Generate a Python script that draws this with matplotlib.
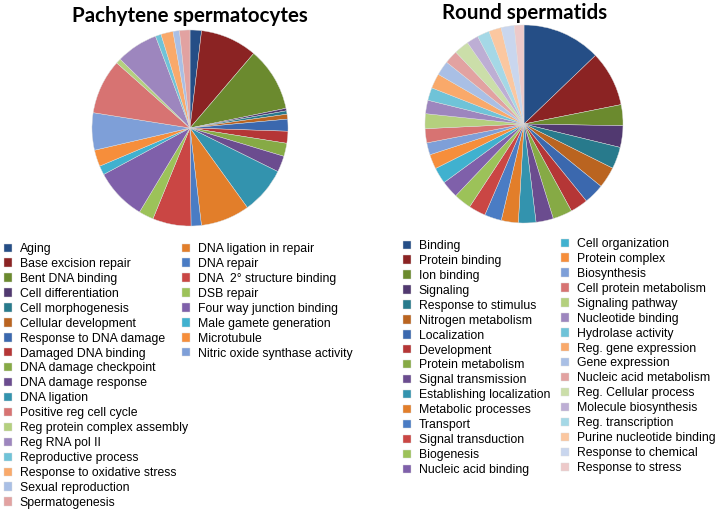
import matplotlib
matplotlib.use("Agg")
import matplotlib.pyplot as plt

W, H = 715, 511

# shared colour cycle (6 hues x several lightness steps)
colors = [
    "#254E86", "#8B2323", "#6B8A2E", "#513970", "#287A8C", "#BA6420",
    "#3B68AE", "#B53636", "#86AA45", "#6B4C8F", "#3393AE", "#E27E2A",
    "#4A7CC4", "#CA4644", "#9CC259", "#7F60AA", "#40B1CF", "#F68E3B",
    "#7E9FD8", "#D77372", "#B4D07E", "#9D86BE", "#6FC3D8", "#F9A96A",
    "#A9BFE5", "#E2A2A1", "#CBDEA9", "#BDAED4", "#A5D8E6", "#FBC7A0",
    "#C9D6EE", "#EDC9C9",
]

pach_labels = ["Aging", "Base excision repair", "Bent DNA binding", "Cell differentiation",
               "Cell morphogenesis", "Cellular development", "Response to DNA damage",
               "Damaged DNA binding", "DNA damage checkpoint", "DNA damage response",
               "DNA ligation", "DNA ligation in repair", "DNA repair",
               "DNA  2° structure binding", "DSB repair", "Four way junction binding",
               "Male gamete generation", "Microtubule", "Nitric oxide synthase activity",
               "Positive reg cell cycle", "Reg protein complex assembly", "Reg RNA pol II",
               "Reproductive process", "Response to oxidative stress", "Sexual reproduction",
               "Spermatogenesis"]
pach_values = [6.8, 33.7, 37.9, 1.5, 2.0, 2.9, 7.1, 7.1, 7.8, 9.6, 27.8, 29.1, 6.1,
               22.8, 8.8, 30.7, 5.4, 9.8, 22.1, 32.6, 3.0, 24.8, 3.4, 7.2, 3.8, 6.2]

round_labels = ["Binding", "Protein binding", "Ion binding", "Signaling", "Response to stimulus",
                "Nitrogen metabolism", "Localization", "Development", "Protein metabolism",
                "Signal transmission", "Establishing localization", "Metabolic processes",
                "Transport", "Signal transduction", "Biogenesis", "Nucleic acid binding",
                "Cell organization", "Protein complex", "Biosynthesis", "Cell protein metabolism",
                "Signaling pathway", "Nucleotide binding", "Hydrolase activity",
                "Reg. gene expression", "Gene expression", "Nucleic acid metabolism",
                "Reg. Cellular process", "Molecule biosynthesis", "Reg. transcription",
                "Purine nucleotide binding", "Response to chemical", "Response to stress"]
round_values = [46.2, 32.5, 12.3, 12.7, 12.8, 12.5, 12.0, 10.4, 11.4, 10.2, 10.3, 10.0,
                10.0, 10.0, 10.3, 10.2, 9.5, 8.6, 7.1, 8.3, 8.7, 7.9, 7.5, 8.7, 8.5, 7.9,
                8.7, 6.9, 7.2, 7.3, 7.7, 5.7]

plt.rcParams["font.family"] = ["Liberation Sans", "DejaVu Sans"]
fig = plt.figure(figsize=(W / 100, H / 100), dpi=100)


def pie_at(cx, cy, r, values):
    ax = fig.add_axes([(cx - r) / W, 1 - (cy + r) / H, 2 * r / W, 2 * r / H])
    wedges, _ = ax.pie(values, colors=colors[:len(values)], startangle=90,
                       counterclock=False, radius=1,
                       wedgeprops=dict(linewidth=0.3, edgecolor="#dddddd"))
    ax.set_xlim(-1.01, 1.01)
    ax.set_ylim(-1.01, 1.01)
    ax.set_aspect("equal")
    ax.axis("off")
    return wedges


def legend_at(x, y, handles, labels):
    fig.legend(handles, labels, loc="upper left", bbox_to_anchor=(x / W, 1 - y / H),
               frameon=False, fontsize=8.8, handlelength=0.68, handleheight=0.68,
               handletextpad=0.6, labelspacing=0.24, borderpad=0, borderaxespad=0)


w1 = pie_at(190, 128, 99, pach_values)
w2 = pie_at(524, 124, 100, round_values)

fig.text(190 / W, 1 - 16 / H, "Pachytene spermatocytes", ha="center", va="center",
         fontsize=14.8, fontweight="bold", family="Lato")
fig.text(525 / W, 1 - 13 / H, "Round spermatids", ha="center", va="center",
         fontsize=14.8, fontweight="bold", family="Lato")

# pachytene legend: first 11, then 8 in column two, then the rest below column one
col1 = list(range(11)) + list(range(19, 26))
col2 = list(range(11, 19))
legend_at(4, 243, [w1[i] for i in col1], [pach_labels[i] for i in col1])
legend_at(182, 243, [w1[i] for i in col2], [pach_labels[i] for i in col2])

legend_at(403, 240, w2[:16], round_labels[:16])
legend_at(561, 238, w2[16:], round_labels[16:])

fig.savefig("out.png", dpi=100)
